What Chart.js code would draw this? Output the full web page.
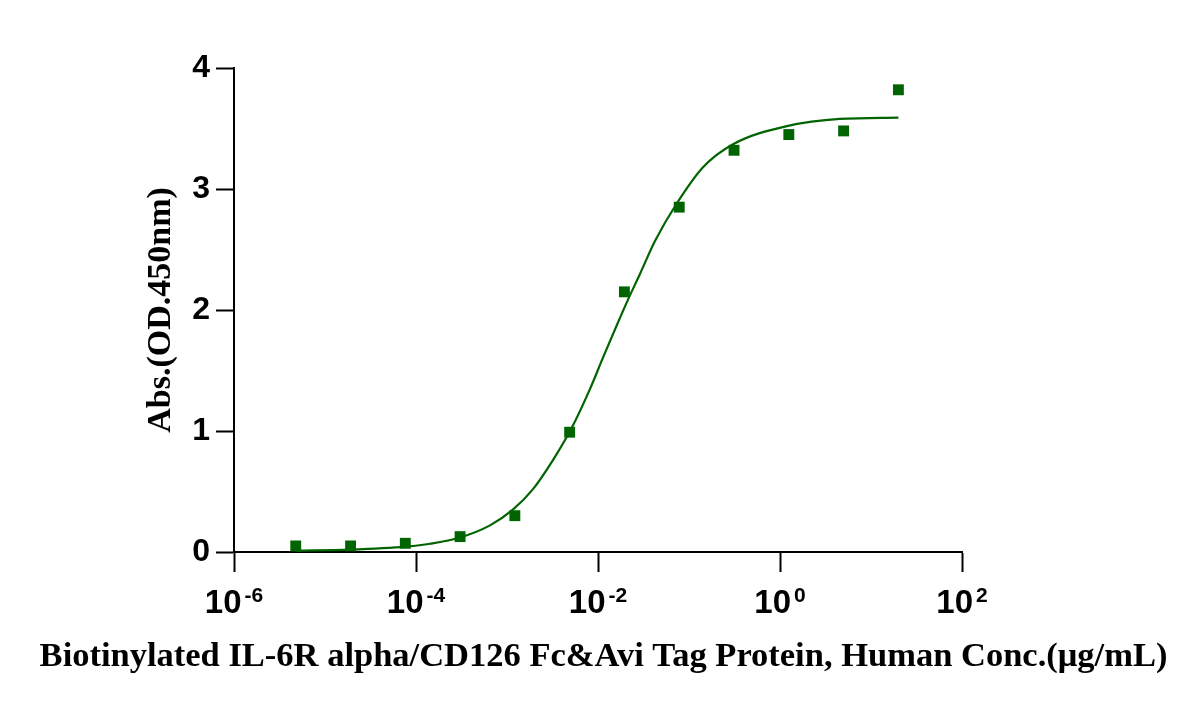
<!DOCTYPE html>
<html lang="en">
<head>
<meta charset="UTF-8">
<title>Biotinylated IL-6R alpha ELISA</title>
<style>
    html, body { margin: 0; padding: 0; background: #ffffff; }
    #wrap { width: 1200px; height: 708px; }
</style>
</head>
<body>
<div id="wrap"><canvas id="elisaChart" width="1200" height="708"></canvas></div>

<script src="https://cdn.jsdelivr.net/npm/chart.js"></script>
<script>
// measured points: concentration (ug/mL) and OD450
const concentrations = [4.77e-6, 1.91e-5, 7.63e-5, 3.05e-4, 1.22e-3, 4.88e-3, 0.0195, 0.0781, 0.3125, 1.25, 5, 20];
const absorbance = [0.05, 0.05, 0.072, 0.127, 0.30, 0.99, 2.15, 2.85, 3.32, 3.45, 3.48, 3.82];

// fitted curve
const curveConc = [4.77e-6, 1.88e-5, 7.9e-5, 1.43e-4, 3.05e-4, 6.5e-4, 1.16e-3, 1.93e-3, 3.2e-3, 5.1e-3, 8.2e-3,
                   0.0114, 0.016, 0.0215, 0.029, 0.0423, 0.0733, 0.1426, 0.305, 1.19, 4.56, 20];
const curveAbs = [0.012, 0.02, 0.045, 0.068, 0.12, 0.22, 0.35, 0.52, 0.76, 1.02, 1.35,
                  1.61, 1.87, 2.09, 2.30, 2.57, 2.88, 3.18, 3.37, 3.52, 3.58, 3.59];

// x ticks: 10 raised to these powers
const xTickValues = [1e-6, 1e-4, 1e-2, 1, 100];
const xTickExponents = ['-6', '-4', '-2', '0', '2'];
const yTickStep = 1;

const xTitle = 'Biotinylated IL-6R alpha/CD126 Fc&Avi Tag Protein, Human Conc.(\u03BCg/mL)';
const yTitle = 'Abs.(OD.450nm)';

const green = '#006400';

// draws "10" with a raised exponent under each x tick
const powerLabels = {
    id: 'powerLabels',
    afterDraw(chart) {
        const xs = chart.scales.x;
        const c = chart.ctx;
        const baseFont = 'bold 33px "Liberation Sans"';
        const expFont = 'bold 21px "Liberation Sans"';
        c.save();
        c.fillStyle = '#000';
        c.textBaseline = 'alphabetic';
        c.textAlign = 'left';
        xTickValues.forEach((v, i) => {
            const px = xs.getPixelForValue(v);
            c.font = baseFont;
            const w1 = c.measureText('10').width;
            c.font = expFont;
            const w2 = c.measureText(xTickExponents[i]).width;
            const x0 = px - (w1 + 3 + w2) / 2;
            c.font = baseFont;
            c.fillText('10', x0, xs.top + 60.5);
            c.font = expFont;
            c.fillText(xTickExponents[i], x0 + w1 + 3, xs.top + 49.5);
        });
        c.restore();
    }
};

const ctx = document.getElementById('elisaChart').getContext('2d');
new Chart(ctx, {
    type: 'scatter',
    data: {
        datasets: [
            {
                label: 'points',
                data: concentrations.map((c, i) => ({ x: c, y: absorbance[i] })),
                pointStyle: 'rect',
                pointRadius: 7.7,
                backgroundColor: green,
                borderWidth: 0,
                clip: false
            },
            {
                label: 'fit',
                data: curveConc.map((c, i) => ({ x: c, y: curveAbs[i] })),
                showLine: true,
                pointRadius: 0,
                borderColor: green,
                borderWidth: 2.2,
                cubicInterpolationMode: 'monotone',
                clip: false
            }
        ]
    },
    options: {
        responsive: false,
        animation: false,
        layout: { padding: { left: 7, right: 0, top: 68, bottom: 0 } },
        plugins: {
            legend: { display: false },
            tooltip: { enabled: false },
            title: {
                display: true,
                position: 'bottom',
                text: xTitle,
                color: '#000',
                font: { family: 'Liberation Serif', size: 34.5, weight: 'bold' },
                padding: { top: 0, bottom: 30.3 }
            }
        },
        scales: {
            x: {
                type: 'logarithmic',
                min: 1e-6,
                max: 100,
                afterBuildTicks: s => { s.ticks = xTickValues.map(v => ({ value: v })); },
                afterFit: s => { s.height = 84.3; },
                ticks: { display: false },
                grid: { drawOnChartArea: false, tickLength: 20, tickWidth: 2, tickColor: '#000' },
                border: { color: '#000', width: 2 }
            },
            y: {
                min: 0,
                max: 4,
                afterFit: s => { s.width = 227; },
                ticks: {
                    stepSize: yTickStep,
                    color: '#000',
                    font: { family: 'Liberation Sans', size: 32, weight: 'bold' },
                    padding: 6
                },
                grid: { drawOnChartArea: false, tickLength: 18, tickWidth: 2, tickColor: '#000' },
                border: { color: '#000', width: 2 },
                title: {
                    display: true,
                    text: yTitle,
                    color: '#000',
                    font: { family: 'Liberation Serif', size: 34, weight: 'bold' },
                    padding: { top: 133.6, bottom: 0 }
                }
            },
            // empty right-hand axis, only reserves the white space right of the plot
            y2: {
                position: 'right',
                afterFit: s => { s.width = 238; },
                ticks: { display: false },
                grid: { display: false },
                border: { display: false }
            }
        }
    },
    plugins: [powerLabels]
});
</script>
</body>
</html>
